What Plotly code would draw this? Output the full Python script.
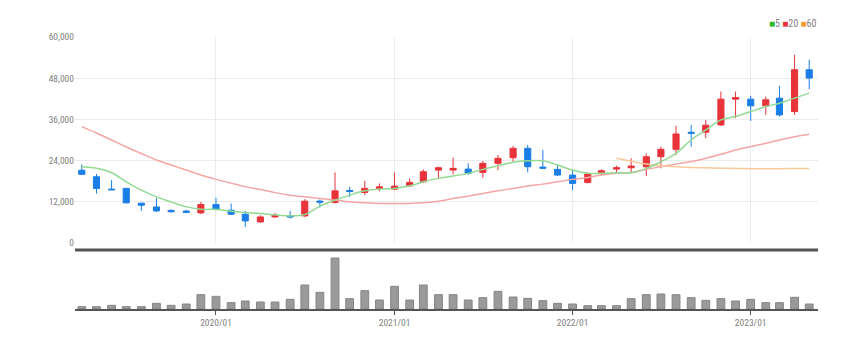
import pandas as pd
import plotly.graph_objects as go

months = pd.date_range("2019-04-01", "2023-05-01", freq="MS")

open_ = [21200, 19300, 15700, 15900, 11600, 10500, 9500, 9300, 8770, 11200,
         9550, 8390, 6140, 7600, 7900, 7890, 12200, 11800, 15300, 14730,
         15900, 15690, 16650, 17820, 21240, 21240, 21530, 20570, 23200, 24840,
         27580, 22100, 21450, 19780, 17650, 20280, 21530, 21920, 22210, 25130,
         27290, 32260, 32260, 34390, 41900, 41900, 39940, 42190, 38280, 50460]
high = [22900, 20100, 18300, 16100, 11700, 13150, 9800, 9700, 12000, 13150,
        11500, 9350, 8090, 8770, 9350, 12770, 12680, 20570, 16360, 18120,
        17350, 20570, 18800, 21450, 22210, 24840, 23200, 23870, 25630, 28260,
        28550, 27090, 22900, 21240, 20570, 21450, 22500, 24660, 26120, 28050,
        34100, 34390, 35850, 44120, 44120, 42870, 42660, 45790, 54840, 53380]
low = [19800, 14400, 15400, 11500, 9350, 9060, 8900, 8700, 8400, 9550,
       8200, 4680, 5960, 7310, 7130, 7600, 10340, 11510, 13440, 13940,
       15100, 15400, 16360, 17530, 18800, 19990, 19780, 18990, 21240, 23670,
       20570, 21740, 19490, 15400, 17350, 19780, 20280, 20450, 19490, 21740,
       25630, 28050, 30500, 34100, 36350, 35560, 37310, 36820, 37310, 44820]
close = [20000, 15900, 15500, 11700, 11000, 9350, 9100, 8950, 11200, 9760,
         8390, 6430, 7600, 8090, 7600, 12180, 11900, 15190, 15000, 15900,
         16360, 16570, 17650, 20750, 21920, 21740, 20280, 23200, 24660, 27580,
         22210, 21800, 19780, 17350, 20070, 21040, 21920, 22410, 25130, 27290,
         31760, 31960, 34300, 41900, 42370, 39940, 41700, 37310, 50460, 48040]

ma5 = [22200, 21740, 20450, 17820, 15400, 13440, 11980, 10520, 9850, 9760,
       9260, 8880, 8590, 8200, 7900, 8300, 10720, 12480, 13940, 15190,
       15690, 15900, 16650, 17820, 18820, 19490, 20280, 21450, 22500, 23490,
       23960, 23960, 22700, 21240, 20280, 20280, 20450, 20450, 21740, 23670,
       26120, 30010, 32930, 35850, 36820, 38280, 39740, 40730, 42190, 43650]
ma20 = [33900, 32050, 30010, 27960, 26060, 24170, 22700, 21240, 19780, 18530,
        17440, 16420, 15550, 14670, 13940, 13440, 12970, 12480, 11980, 11690,
        11510, 11510, 11510, 11690, 12180, 12970, 13650, 14430, 15190, 15900,
        16570, 17150, 17820, 18530, 19110, 19780, 20280, 20450, 21450, 22210,
        23000, 23670, 24660, 25830, 27090, 28050, 29040, 30010, 30970, 31670]
ma60 = [None] * 36 + [24700, 23800, 23000, 22500, 22200, 22000, 21900, 21800,
                      21700, 21650, 21600, 21650, 21700, 21700]

volume = [7, 7, 11, 7, 7, 17, 11, 15, 43, 38, 19, 24, 21, 21, 29, 72, 50, 153, 31, 55,
          27, 68, 27, 72, 43, 43, 27, 34, 53, 36, 32, 25, 17, 15, 10, 10, 10, 31, 43, 45,
          43, 34, 26, 31, 24, 29, 19, 19, 35, 15]

year_ticks = ["2020-01-01", "2021-01-01", "2022-01-01", "2023-01-01"]
year_labels = ["2020/01", "2021/01", "2022/01", "2023/01"]
price_ticks = [0, 12000, 24000, 36000, 48000, 60000]
price_labels = ["0", "12,000", "24,000", "36,000", "48,000", "60,000"]

RED = "#e8333a"
BLUE = "#1b7ee6"
FONT = "Liberation Sans Narrow, Roboto Condensed, Liberation Sans, sans-serif"

fig = go.Figure()
fig.add_trace(go.Scatter(x=months, y=ma20, mode="lines", line=dict(color="#f5a5a5", width=1.5, shape="spline"),
                         xaxis="x", yaxis="y", showlegend=False))
fig.add_trace(go.Scatter(x=months, y=ma60, mode="lines", line=dict(color="#f8c99a", width=1.5, shape="spline"),
                         xaxis="x", yaxis="y", showlegend=False))
fig.add_trace(go.Scatter(x=months, y=ma5, mode="lines", line=dict(color="#92da92", width=1.5, shape="spline"),
                         xaxis="x", yaxis="y", showlegend=False))
fig.add_trace(go.Candlestick(x=months, open=open_, high=high, low=low, close=close,
                             increasing=dict(line=dict(color=RED, width=1), fillcolor=RED),
                             decreasing=dict(line=dict(color=BLUE, width=1), fillcolor=BLUE),
                             whiskerwidth=0, xaxis="x", yaxis="y", showlegend=False))
fig.add_trace(go.Bar(x=months, y=volume, width=16 * 86400000,
                     marker=dict(color="#9a9a9a", line=dict(color="#858585", width=1)),
                     xaxis="x2", yaxis="y2", showlegend=False))

H_PLOT = 272.0
fig.update_layout(
    width=868, height=347,
    margin=dict(l=75, r=50, t=37, b=38),
    paper_bgcolor="white", plot_bgcolor="white",
    font=dict(family=FONT, size=9.5, color="#808080"),
    boxgap=0.36,
    xaxis=dict(type="date", range=["2019-03-18", "2023-05-19"], tickvals=year_ticks,
               showticklabels=False, showgrid=True, gridcolor="#ececec", zeroline=False,
               rangeslider=dict(visible=False), anchor="y"),
    yaxis=dict(domain=[(309 - 243) / H_PLOT, 1], range=[0, 60000], tickvals=price_ticks,
               ticktext=price_labels, showgrid=True, gridcolor="#ececec", zeroline=False,
               showline=False, ticks="", anchor="x"),
    xaxis2=dict(type="date", matches="x", range=["2019-03-18", "2023-05-19"], tickvals=year_ticks,
                ticktext=year_labels, ticks="outside", ticklen=4, tickcolor="#555",
                showline=True, linecolor="#555", linewidth=2, showgrid=False, zeroline=False,
                anchor="y2", tickfont=dict(size=9.5, color="#808080")),
    yaxis2=dict(domain=[0, (309 - 252) / H_PLOT], range=[0, 153 * 57 / 51],
                showticklabels=False, showgrid=False, zeroline=False, anchor="x2"),
    shapes=[dict(type="line", xref="paper", yref="paper", x0=0, x1=1,
                 y0=(309 - 250) / H_PLOT, y1=(309 - 250) / H_PLOT,
                 line=dict(color="#555", width=3))],
    annotations=[dict(xref="paper", yref="paper", x=1.0, y=(309 - 24) / H_PLOT,
                      xanchor="right", yanchor="middle", showarrow=False,
                      font=dict(family=FONT, size=10, color="#808080"),
                      text='<span style="color:#2db82d">■</span>5 '
                           '<span style="color:#e8333a">■</span>20 '
                           '<span style="color:#f39c33">■</span>60')],
)

fig.write_html("out.html")
